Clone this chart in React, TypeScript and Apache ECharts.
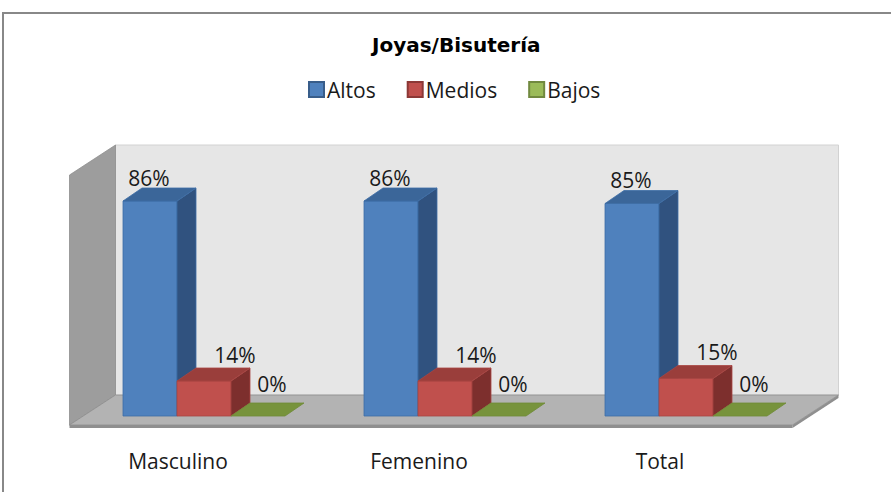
import React, { useEffect, useRef } from "react";
import * as echarts from "echarts";

const categories = ["Masculino", "Femenino", "Total"];
const seriesNames = ["Altos", "Medios", "Bajos"];
const altos = [86, 86, 85];
const medios = [14, 14, 15];
const bajos = [0, 0, 0];
const seriesValues = [altos, medios, bajos];

// styles
const FRONT = ["#4F81BD", "#C0504D", "#9BBB59"];
const TOPC = ["#3B6699", "#9A3E3B", "#77933C"];
const SIDE = ["#30527F", "#7D2F2D", "#5F7730"];
const EDGE = ["#3E6DA6", "#A84542", "#6E8A36"];
const LEGEND_BORDER = ["#385D8A", "#8C3836", "#71893F"];
const LABEL_DX = [-1, 31, 14];
const LABEL_DY = [-3, -6, -12];
const BAR_FRAC = 54 / 241;
const DEPTH_X = 19;
const DEPTH_Y = -13;
const FONT = "'Open Sans', 'Noto Sans', sans-serif";

function makeBarRender(s: number) {
  return (params: any, api: any) => {
    const i = api.value(0);
    const v = api.value(1);
    const base = api.coord([i, 0]);
    const top = api.coord([i, v]);
    const band = api.size([1, 0])[0];
    const w = band * BAR_FRAC;
    const x0 = base[0] - 1.5 * w + s * w;
    const x1 = x0 + w;
    const by = base[1];
    const ty = top[1];
    const children: any[] = [];
    if (by - ty > 0.5) {
      children.push({
        type: "polygon",
        shape: { points: [[x0, ty], [x1, ty], [x1, by], [x0, by]] },
        style: { fill: FRONT[s], stroke: EDGE[s], lineWidth: 0.8 },
      });
      children.push({
        type: "polygon",
        shape: { points: [[x1, ty], [x1 + DEPTH_X, ty + DEPTH_Y], [x1 + DEPTH_X, by + DEPTH_Y], [x1, by]] },
        style: { fill: SIDE[s], stroke: EDGE[s], lineWidth: 0.8 },
      });
    }
    children.push({
      type: "polygon",
      shape: { points: [[x0, ty], [x1, ty], [x1 + DEPTH_X, ty + DEPTH_Y], [x0 + DEPTH_X, ty + DEPTH_Y]] },
      style: { fill: TOPC[s], stroke: EDGE[s], lineWidth: 0.8 },
    });
    children.push({
      type: "text",
      x: x0 + w / 2 + LABEL_DX[s],
      y: ty + DEPTH_Y + 3 + LABEL_DY[s],
      style: {
        text: v + "%",
        fill: "#1a1a1a",
        font: "21px " + FONT,
        textAlign: "center",
        textVerticalAlign: "bottom",
      },
    });
    return { type: "group", children };
  };
}

function renderWalls(params: any, api: any) {
  const cs = params.coordSys;
  const X0 = cs.x;
  const X1 = cs.x + cs.width;
  const Y100 = cs.y;
  const Y0 = cs.y + cs.height;
  const fx = -14, fy = 9; // floor front offset
  const bx = 32, bY = -21; // back plane offset
  const th = 3;
  return {
    type: "group",
    children: [
      {
        type: "polygon",
        shape: { points: [[X0 + bx, Y100 + bY], [X1 + bx, Y100 + bY], [X1 + bx, Y0 + bY], [X0 + bx, Y0 + bY]] },
        style: { fill: "#E6E6E6", stroke: "#D2D2D2", lineWidth: 1 },
      },
      {
        type: "polygon",
        shape: { points: [[X0 + fx, Y100 + fy], [X0 + bx, Y100 + bY], [X0 + bx, Y0 + bY], [X0 + fx, Y0 + fy]] },
        style: { fill: "#9D9D9D", stroke: "#8E8E8E", lineWidth: 0.8 },
      },
      {
        type: "polygon",
        shape: { points: [[X0 + fx, Y0 + fy], [X1 + fx, Y0 + fy], [X1 + bx, Y0 + bY], [X0 + bx, Y0 + bY]] },
        style: { fill: "#B3B3B3", stroke: "#8E8E8E", lineWidth: 0.8 },
      },
      {
        type: "polygon",
        shape: { points: [[X0 + fx, Y0 + fy], [X1 + fx, Y0 + fy], [X1 + fx, Y0 + fy + th], [X0 + fx, Y0 + fy + th]] },
        style: { fill: "#8F8F8F" },
      },
      {
        type: "polygon",
        shape: { points: [[X1 + fx, Y0 + fy], [X1 + bx, Y0 + bY], [X1 + bx, Y0 + bY + th], [X1 + fx, Y0 + fy + th]] },
        style: { fill: "#8F8F8F" },
      },
    ],
  };
}

export default function App() {
  const ref = useRef<HTMLDivElement>(null);
  useEffect(() => {
    if (!ref.current) return;
    const chart = echarts.init(ref.current, null, { renderer: "svg" });
    const series: any[] = [
      {
        type: "custom",
        name: "__walls",
        renderItem: renderWalls,
        data: [[0, 0]],
        z: 0,
        silent: true,
      },
    ];
    seriesNames.forEach((name, s) => {
      series.push({
        type: "custom",
        name,
        renderItem: makeBarRender(s),
        data: seriesValues[s].map((v, i) => [i, v]),
        encode: { x: 0, y: 1 },
        itemStyle: { color: FRONT[s], borderColor: LEGEND_BORDER[s], borderWidth: 1 },
        z: 2 + s,
      });
    });
    chart.setOption({
      animation: false,
      backgroundColor: "#ffffff",
      title: {
        text: "Joyas/Bisutería",
        left: 367,
        top: 30,
        textStyle: { fontFamily: "'DejaVu Sans', sans-serif", fontWeight: "bold", fontSize: 20, color: "#000" },
      },
      legend: {
        data: seriesNames,
        left: 303,
        top: 74,
        icon: "rect",
        itemWidth: 15,
        itemHeight: 15,
        itemGap: 31,
        textStyle: { fontFamily: FONT, fontSize: 21, color: "#1a1a1a", padding: [0, 0, 0, -2] },
      },
      grid: { left: 83.5, right: 84.5, top: 166, bottom: 76, containLabel: false },
      xAxis: {
        type: "category",
        data: categories,
        axisLine: { show: false },
        axisTick: { show: false },
        splitLine: { show: false },
        axisLabel: {
          fontFamily: FONT,
          fontSize: 21,
          color: "#1a1a1a",
          margin: 34,
          padding: [0, 52, 0, 0],
        },
      },
      yAxis: {
        type: "value",
        min: 0,
        max: 100,
        show: false,
      },
      graphic: [
        {
          type: "rect",
          shape: { x: 3, y: 13, width: 1000, height: 600 },
          style: { fill: "none", stroke: "#888888", lineWidth: 2 },
          z: 10,
          silent: true,
        },
      ],
      series,
    });
    return () => chart.dispose();
  }, []);
  return <div ref={ref} style={{ position: "absolute", left: 0, top: 0, width: 891, height: 492 }} />;
}
